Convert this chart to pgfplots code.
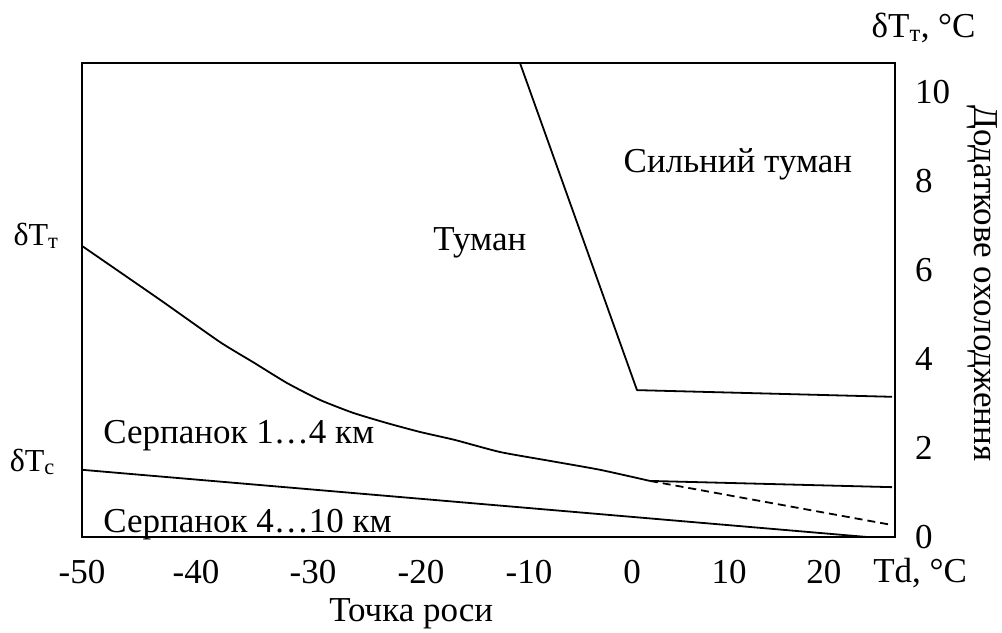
\documentclass[border=0pt]{standalone}
\usepackage{fontspec}
\setmainfont{Liberation Serif}
\usepackage{pgfplots}
\pgfplotsset{compat=1.18}

\begin{document}
\begin{tikzpicture}[font=\fontsize{35}{42}\selectfont]
\begin{axis}[
  name=main,
  width=813pt, height=474pt, scale only axis,
  xmin=-50, xmax=26.7,
  ymin=0, ymax=10.65,
  axis line style={line width=2pt},
  major tick length=0pt,
  xtick={-50,-39.25,-28.21,-18.02,-7.83,1.89,11.04,20},
  xticklabels={-50,-40,-30,-20,-10,0,10,20},
  ytick={0,2,4,6,8,10},
  yticklabels={0,2,4,6,8,10},
  yticklabel pos=right,
  xticklabel style={inner sep=0pt, anchor=north, yshift=-23pt},
  yticklabel style={inner sep=0pt, anchor=west, xshift=20pt},
  clip=false,
  boundary/.style={black, line width=1.8pt, mark=none, line join=round},
]
% fog / dense fog boundary
\addplot[boundary] coordinates {(-8.68,10.65) (2.36,3.30) (26.42,3.15)};
% fog / haze 1...4 km boundary: curved part, then nearly flat
\addplot[boundary, smooth, tension=0.35] coordinates {
  (-50,6.54) (-42.64,5.33) (-36.98,4.38) (-33.87,3.93) (-30.66,3.46)
  (-27.55,3.08) (-24.43,2.79) (-21.23,2.56) (-18.11,2.36) (-14.81,2.18)
  (-10.57,1.91) (-5.85,1.71) (-1.13,1.51) (3.58,1.26)};
\addplot[boundary] coordinates {(3.58,1.26) (26.42,1.12)};
% dashed continuation
\addplot[boundary, dash pattern=on 8pt off 5pt] coordinates {(3.58,1.26) (26.42,0.27)};
% haze 1...4 km / haze 4...10 km boundary
\addplot[boundary] coordinates {(-50,1.51) (24.06,0)};

% region names
\node[anchor=base west] at (axis description cs:0.428,0.605) {Туман};
\node[anchor=base west] at (axis description cs:0.662,0.768) {Сильний туман};
\node[anchor=base west] at (axis description cs:0.022,0.198) {Серпанок 1…4 км};
\node[anchor=base west] at (axis description cs:0.022,0.0105) {Серпанок 4…10 км};

% axis annotations
\node[anchor=base east, font=\fontsize{32}{38}\selectfont] at (axis description cs:-0.0246,0.616) {δT\textsubscript{т}};
\node[anchor=base east, font=\fontsize{32}{38}\selectfont] at (axis description cs:-0.029,0.139) {δT\textsubscript{c}};
\node[anchor=base west] at (axis description cs:0.967,1.053) {δT\textsubscript{т}, °C};
\node[anchor=base west] at (axis description cs:0.969,-0.095) {Td, °C};
\node[anchor=base] at (axis description cs:0.405,-0.179) {Точка роси};
\node[rotate=-90] at (axis description cs:1.107,0.535) {Додаткове охолодження};
\end{axis}
\path (main.south west) ++(-82pt,-91pt) rectangle ++(1002pt,628pt);
\end{tikzpicture}
\end{document}
